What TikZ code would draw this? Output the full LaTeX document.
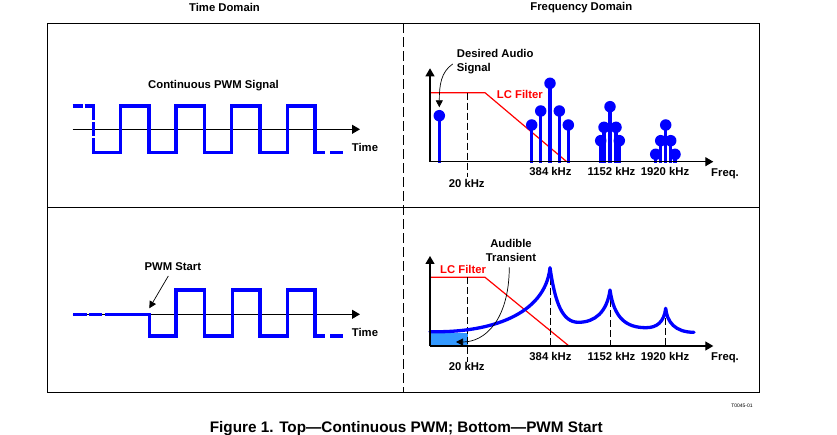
\documentclass[tikz,border=0pt]{standalone}
\usepackage{fontspec}
\setmainfont{Liberation Sans}
\usetikzlibrary{arrows.meta}
\definecolor{pwmblue}{RGB}{0,0,255}
\definecolor{fillblue}{RGB}{51,153,255}
\definecolor{lcred}{RGB}{255,0,0}
\begin{document}
\begin{tikzpicture}[x=1pt,y=-1pt,
  lbl/.style={font=\bfseries\fontsize{11.3}{13}\selectfont, inner sep=0pt},
  frame/.style={line width=1.3pt},
  axis/.style={line width=1.2pt, -{Triangle[length=8pt,width=9pt]}},
  sig/.style={pwmblue, line width=3.3pt, line join=miter},
  lc/.style={lcred, line width=1.2pt},
  guide/.style={black, line width=1pt, dash pattern=on 7pt off 3pt},
  note/.style={line width=0.7pt, -{Triangle[length=7pt,width=7pt]}},
  stem/.style={pwmblue, line width=3.3pt},
  dot/.style={circle, fill=pwmblue, inner sep=0pt, minimum size=11.5pt}]
\useasboundingbox (0,0) rectangle (837,435);
\fill[white] (0,0) rectangle (837,435);

% frame
\draw[frame] (47.3,23.3) rectangle (759.3,392.3);
\draw[frame] (47.3,207.3) -- (759.3,207.3);
\draw[frame, dash pattern=on 10pt off 4pt] (403.3,23.3) -- (403.3,392.3);

\node[lbl] (td) at (224.5,7.5) {Time Domain};
\node[lbl] (fd) at (581.3,7.5) {Frequency Domain};

% ---------- top left ----------
\coordinate (ta0) at (72.7,129.3);
\coordinate (ta1) at (360,129.3);
\draw[axis] (ta0) -- (ta1);
\node[lbl] (cps) at (213.5,86) {Continuous PWM Signal};
\node[lbl, anchor=west] (time1) at (351.7,147.7) {Time};
\draw[sig] (72.7,106) -- (82.7,106);
\draw[sig] (84.5,106) -- (93.3,106) -- (93.3,120);
\draw[sig] (93.3,122.3) -- (93.3,136);
\draw[sig] (93.3,138.3) -- (93.3,152.7) -- (120.7,152.7) -- (120.7,106) -- (149,106)
  -- (149,152.7) -- (176,152.7) -- (176,106) -- (204.3,106) -- (204.3,152.7)
  -- (231.7,152.7) -- (231.7,106) -- (260,106) -- (260,152.7) -- (287.3,152.7)
  -- (287.3,106) -- (315,106) -- (315,152.7) -- (325,152.7);
\draw[sig] (330,152.7) -- (343.3,152.7);

% ---------- bottom left ----------
\coordinate (ba0) at (72.7,314.3);
\coordinate (ba1) at (360,314.3);
\draw[axis] (ba0) -- (ba1);
\node[lbl, anchor=west] (time2) at (351.7,332.7) {Time};
\draw[sig] (73.3,314.3) -- (86.7,314.3);
\draw[sig] (89.3,314.3) -- (101.7,314.3);
\draw[sig] (105,314.3) -- (149.3,314.3) -- (149.3,336) -- (176,336) -- (176,290)
  -- (204.3,290) -- (204.3,336) -- (232.3,336) -- (232.3,290) -- (260,290)
  -- (260,336) -- (287.3,336) -- (287.3,290) -- (315,290) -- (315,336) -- (325,336);
\draw[sig] (330,336) -- (343.3,336);
\node[lbl] (pws) at (172.8,266.7) {PWM Start};
\coordinate (psfrom) at (168.3,276);
\coordinate (pstip) at (149.3,308.3);
\draw[note] (psfrom) -- (pstip);

% ---------- top right ----------
\coordinate (o1) at (430,161.7);
\coordinate (y1) at (430,68.3);
\coordinate (x1) at (713.3,161.7);
\draw[lc] (430,92.7) -- (485,92.7) -- (566.7,161.7);
\node[lbl, lcred, anchor=west] (lc1) at (496.7,94) {LC Filter};
\draw[guide] (467.7,92.7) -- (467.7,177);
\node[lbl] (k20a) at (466.7,183.5) {20 kHz};
\foreach \x/\y in {439.3/115.7,
  531.7/125, 568.3/125, 540.7/111, 559.3/111, 550/83.3,
  600.7/140.7, 619.3/140.7, 604/127.3, 616/127.3, 610/106.7,
  655.7/154.3, 675/154.3, 660.7/140.7, 670.7/140.7, 665.7/125} {
  \draw[stem] (\x,163) -- (\x,\y);
  \node[dot] at (\x,\y) {};
}
\draw[axis] (o1) -- (y1);
\draw[axis] (o1) -- (x1);
\node[lbl] (k384a) at (550.5,171.7) {384 kHz};
\node[lbl] (k1152a) at (611.5,171.7) {1152 kHz};
\node[lbl] (k1920a) at (665,171.7) {1920 kHz};
\node[lbl, anchor=west] (fq1) at (711,173.3) {Freq.};
\node[lbl, anchor=west] (das1) at (456.7,53.3) {Desired Audio};
\node[lbl, anchor=west] (das2) at (456.7,69) {Signal};
\coordinate (dafrom) at (452.7,64);
\coordinate (datip) at (439.3,107.3);
\draw[note] (dafrom) .. controls (441,72) and (439.3,85) .. (datip);

% ---------- bottom right ----------
\coordinate (o2) at (430,346);
\coordinate (y2) at (430,256);
\coordinate (x2) at (713.3,346);
\fill[fillblue] (430,333) rectangle (467.7,346);
\draw[lc] (430,277.3) -- (485,277.3) -- (569,346);
\node[lbl, lcred, anchor=west] (lc2) at (440,269.3) {LC Filter};
\draw[guide] (467.7,277.3) -- (467.7,361.7);
\draw[guide] (550,267.7) -- (550,346);
\draw[guide] (610,290) -- (610,346);
\draw[guide] (665.7,308.3) -- (665.7,346);
\draw[pwmblue, line width=3.3pt, line join=round, line cap=round]
  (430,331.7) .. controls (490,333) and (545,315) .. (550,267.7)
  .. controls (555,302) and (562,322.3) .. (578.3,322.3)
  .. controls (595,322.3) and (607,312) .. (610,290)
  .. controls (614,318) and (626,327.7) .. (646,327.7)
  .. controls (657,327.7) and (664,322) .. (665.7,308.3)
  .. controls (667,322) and (675,332.3) .. (694,332.3);
\draw[axis] (o2) -- (y2);
\draw[axis] (o2) -- (x2);
\node[lbl] (k20b) at (466.7,366.5) {20 kHz};
\node[lbl] (k384b) at (550.5,356) {384 kHz};
\node[lbl] (k1152b) at (611.5,356) {1152 kHz};
\node[lbl] (k1920b) at (665,356) {1920 kHz};
\node[lbl, anchor=west] (fq2) at (711,357.7) {Freq.};
\node[lbl] (aud1) at (511,243.3) {Audible};
\node[lbl] (aud2) at (511,257.3) {Transient};
\coordinate (atfrom) at (509.3,267.3);
\coordinate (attip) at (456,342);
\draw[note] (atfrom) .. controls (509,320) and (485,342) .. (attip);

\node[font=\fontsize{5}{6}\selectfont, inner sep=0pt] (fid) at (742,405.5) {T0045-01};

% caption
\node[font=\bfseries\fontsize{15.3}{17}\selectfont, inner sep=0pt, anchor=base] (cap) at (406.3,432.7)
  {Figure 1. Top---Continuous PWM; Bottom---PWM Start};
\end{tikzpicture}
\end{document}
